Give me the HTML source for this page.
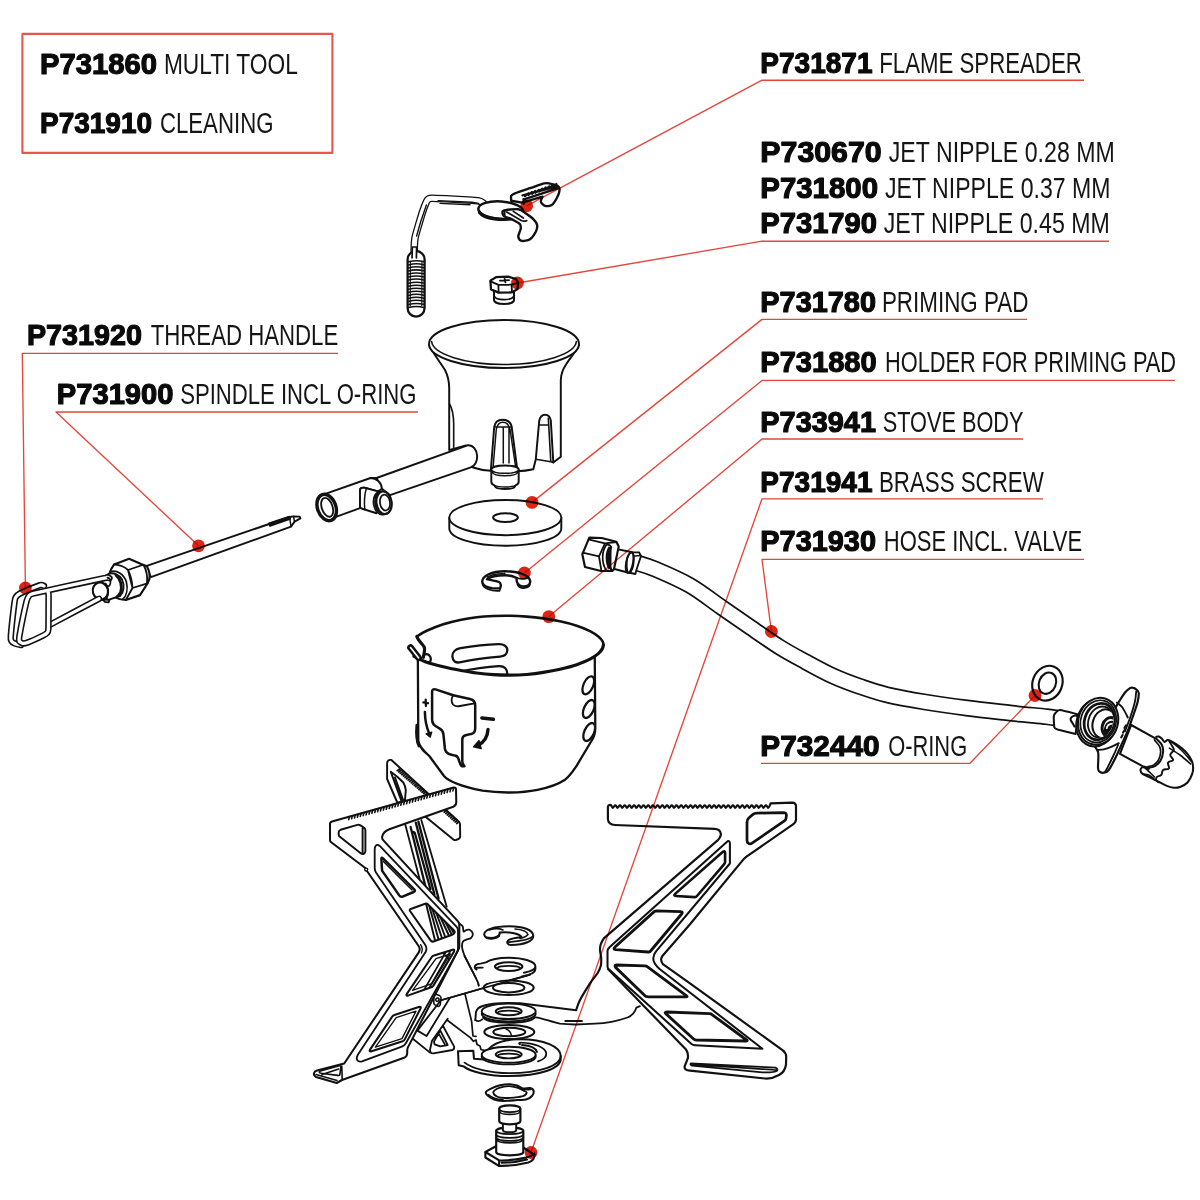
<!DOCTYPE html>
<html><head><meta charset="utf-8"><title>Stove spare parts</title>
<style>
html,body{margin:0;padding:0;background:#fff;}
body{width:1200px;height:1200px;overflow:hidden;font-family:"Liberation Sans",sans-serif;}
svg{display:block;filter:blur(0.35px)}
.b{font-weight:bold;fill:#0a0a0a;stroke:#0a0a0a;stroke-width:1.2;stroke-linejoin:round}
.l{fill:#151515}
.k{fill:none;stroke:#111;stroke-width:1.95;stroke-linecap:round;stroke-linejoin:round}
.w{fill:#fff;stroke:#111;stroke-width:1.95;stroke-linecap:round;stroke-linejoin:round}
.t{fill:none;stroke:#111;stroke-width:1.2;stroke-linecap:round;stroke-linejoin:round}
</style></head><body>
<svg width="1200" height="1200" viewBox="0 0 1200 1200">
<rect width="1200" height="1200" fill="#fff"/>
<!-- 10_burner.svg -->
<g id="burner">
<!-- cup body -->
<path class="w" d="M429.3 345 C432 352 440 362 445 370 C448 376 449.2 381 449.2 388 L449.2 450 L453.5 449 L466 445.5 L473 467.5 C479 469.5 485 470.5 490.8 470.8 L494.2 427 C495 422 498.5 419.7 502.5 419.7 C507 419.7 510.8 422 511.7 427 L517.5 471.3 C523 471 528.5 470.2 533.3 469.2 L535.8 459.2 L539.2 421 C540 417 542.3 414.7 545 414.7 C548 414.7 550.3 417 550.8 420.5 L553.3 462.5 L560.8 456.7 L560.8 380 C561 374 563 369 566 364.5 C570 358 576 352 578.7 345 Z"/>
<!-- rim -->
<ellipse class="w" cx="504" cy="344" rx="75" ry="24"/>
<path style="stroke-width:1.60" class="k" d="M431.6 341.5 C433 354 465 364.5 504 364.5 C543 364.5 575 354 576.4 341.5"/>
<!-- left slot edge -->
<path style="stroke-width:1.60" class="k" d="M449.6 404 C452.5 409 453.6 416 453.7 424 L453.7 448.5"/>
<!-- right slot details -->
<path style="stroke-width:1.60" class="k" d="M548.3 418 L550.8 461.7 M535.8 459.2 L550.8 461.7 L553.3 462.5 M539.4 425 L548.5 425"/>
<!-- centre slot inner details -->
<path style="stroke-width:1.48" class="k" d="M494.6 427 L511.6 427 M496.5 428.5 C497.5 424 500 422.3 502.8 422.3 C506 422.3 508.6 424 509.6 428.5 M503.3 428 L503.3 463 M509 428 L509 463 M496.3 429 L493.2 466 M510 429 L515.5 466"/>
<!-- nozzle -->
<g transform="translate(0 1.6)">
<path class="w" d="M491.3 468 L491.3 480 C491.3 482 492.8 483.3 494.5 483.8 L495.5 485.5 C498 488 512 488 514.5 485.5 L515.5 483.8 C517.2 483.3 518.7 482 518.7 480 L518.7 468 C518.7 462.5 491.3 462.5 491.3 468 Z"/>
<path style="stroke-width:1.48" class="k" d="M491.3 468 C491.3 473 518.7 473 518.7 468 M492 470.3 C494 475.3 516 475.3 518 470.3 M494.5 483.8 C499 486 511 486 515.5 483.8"/>
</g>
<!-- tube thin -->
<path class="w" d="M467.5 445.3 L376.5 478 L381 488 L390 495.2 L470.8 467.3 C474.5 466.5 477.3 461.5 477.2 456 C477 450 473 444.5 467.5 445.3 Z"/>
<!-- thick tube -->
<path class="w" d="M370.5 478 L322.5 494.8 L335.2 517.2 L360 508.2 L360 490 C360.3 488 362 487.4 364.5 487.8 L378 491.5 L381.9 488.7 C381.5 482.5 376.5 478 370.5 478 Z"/>
<path class="k" d="M370.5 478 L376.5 478" />
<!-- T stub -->
<path class="w" d="M364.5 487.8 C361.5 487.3 360.2 488.2 360 490 L360 506 C360 508 361 508.6 362.3 508.8 L376.5 513.3 L379 491.6 Z"/>
<path style="stroke-width:1.48" class="k" d="M366.4 488.2 C364.6 494 364 502 364.8 509.4"/>
<g transform="rotate(-8 383.3 502.8)">
<ellipse style="stroke-width:1.71" class="w" cx="381.3" cy="502.8" rx="7.8" ry="11.6"/>
<ellipse style="stroke-width:1.71" class="w" cx="382.6" cy="502.8" rx="7.6" ry="11.4"/>
<ellipse style="stroke-width:2.28" class="w" cx="384" cy="502.8" rx="7.6" ry="11.4"/>
<ellipse style="stroke-width:1.71" class="w" cx="385" cy="502.8" rx="5" ry="8"/>
</g>
<!-- left end ring -->
<g transform="rotate(-19 326.7 507.5)">
<ellipse style="stroke-width:3.42" class="w" cx="326.7" cy="507.5" rx="9.2" ry="13.6"/>
<ellipse style="stroke-width:1.82" class="w" cx="327.2" cy="507.5" rx="5.4" ry="9.8"/>
</g>
</g>

<!-- 20_body.py -->
<g id="stovebody">
<clipPath id="bodyclip"><path d="M417.8 640 L418.3 741 C420 748 425 752 429.3 756 L445.8 778 C452 783 470 790 510 792.5 C540 791 556 785 565 779.7 L576 766.8 L594.3 735.7 L594.7 640 Z"/></clipPath>
<!-- body -->
<path style="stroke-width:2.28" class="w" d="M417.8 648 L418.3 741 C419.5 747.5 424 751.5 429.3 756 L444 776 C449 782 462 786.5 482.5 790.7 C492 792.2 501 792.6 510 792.5 C520 792.3 529 791.5 537.5 789.8 C549 787.5 558.5 784 565 779.7 C569.5 776.5 572.5 772 576 766.8 L592 740 C594 737 595.2 733 595.3 728.3 L594.7 650 Z"/>
<path style="stroke-width:2.74" class="k" d="M416.8 725 C416 734 416.6 741 418.9 746"/>
<!-- rim -->
<path d="M416.9 636.5C418.5 635.5 422.3 632.8 426.7 630.8C431.1 628.8 437.8 626.1 443.3 624.3C448.9 622.5 454.4 621.2 460.0 620.0C465.6 618.8 471.1 617.9 476.7 617.2C482.2 616.5 487.8 616.2 493.3 616.0C498.9 615.8 504.4 615.7 510.0 615.8C515.6 615.9 521.2 616.2 526.7 616.6C532.2 617.0 537.8 617.6 543.3 618.4C548.8 619.2 554.4 620.1 560.0 621.3C565.6 622.5 571.7 624.1 576.7 625.8C581.7 627.4 586.4 629.4 590.0 631.2C593.6 633.0 596.5 635.1 598.6 636.8C600.7 638.5 601.8 640.0 602.6 641.4C603.4 642.8 603.3 644.4 603.4 645.0C603.2 645.6 603.2 647.2 602.4 648.6C601.6 650.0 600.7 651.6 598.6 653.4C596.5 655.2 593.6 657.3 590.0 659.2C586.4 661.1 581.7 663.0 576.7 664.7C571.7 666.4 565.6 667.9 560.0 669.2C554.4 670.5 548.8 671.5 543.3 672.4C537.8 673.3 532.2 674.0 526.7 674.5C521.2 675.0 515.6 675.2 510.0 675.2C504.4 675.2 498.9 675.1 493.3 674.7C487.8 674.3 482.2 673.7 476.7 673.0C471.1 672.3 465.6 671.3 460.0 670.3C454.4 669.2 448.9 668.1 443.3 666.7C437.8 665.4 431.6 663.9 426.7 662.2C421.8 660.5 416.1 657.3 414.0 656.3L416.9 636.5Z" style="fill:#fff;stroke:none"/>
<path style="stroke-width:2.62" class="k" d="M416.9 636.5C418.5 635.5 422.3 632.8 426.7 630.8C431.1 628.8 437.8 626.1 443.3 624.3C448.9 622.5 454.4 621.2 460.0 620.0C465.6 618.8 471.1 617.9 476.7 617.2C482.2 616.5 487.8 616.2 493.3 616.0C498.9 615.8 504.4 615.7 510.0 615.8C515.6 615.9 521.2 616.2 526.7 616.6C532.2 617.0 537.8 617.6 543.3 618.4C548.8 619.2 554.4 620.1 560.0 621.3C565.6 622.5 571.7 624.1 576.7 625.8C581.7 627.4 586.4 629.4 590.0 631.2C593.6 633.0 596.5 635.1 598.6 636.8C600.7 638.5 601.8 640.0 602.6 641.4C603.4 642.8 603.3 644.4 603.4 645.0"/>
<clipPath id="rimclip"><path d="M416.9 636.5C418.5 635.5 422.3 632.8 426.7 630.8C431.1 628.8 437.8 626.1 443.3 624.3C448.9 622.5 454.4 621.2 460.0 620.0C465.6 618.8 471.1 617.9 476.7 617.2C482.2 616.5 487.8 616.2 493.3 616.0C498.9 615.8 504.4 615.7 510.0 615.8C515.6 615.9 521.2 616.2 526.7 616.6C532.2 617.0 537.8 617.6 543.3 618.4C548.8 619.2 554.4 620.1 560.0 621.3C565.6 622.5 571.7 624.1 576.7 625.8C581.7 627.4 586.4 629.4 590.0 631.2C593.6 633.0 596.5 635.1 598.6 636.8C600.7 638.5 601.8 640.0 602.6 641.4C603.4 642.8 603.3 644.4 603.4 645.0C603.2 645.6 603.2 647.2 602.4 648.6C601.6 650.0 600.7 651.6 598.6 653.4C596.5 655.2 593.6 657.3 590.0 659.2C586.4 661.1 581.7 663.0 576.7 664.7C571.7 666.4 565.6 667.9 560.0 669.2C554.4 670.5 548.8 671.5 543.3 672.4C537.8 673.3 532.2 674.0 526.7 674.5C521.2 675.0 515.6 675.2 510.0 675.2C504.4 675.2 498.9 675.1 493.3 674.7C487.8 674.3 482.2 673.7 476.7 673.0C471.1 672.3 465.6 671.3 460.0 670.3C454.4 669.2 448.9 668.1 443.3 666.7C437.8 665.4 431.6 663.9 426.7 662.2C421.8 660.5 416.1 657.3 414.0 656.3L416.9 636.5Z"/></clipPath>
<g clip-path="url(#rimclip)">
<path style="stroke-width:2.28" class="k" d="M460.5 648.2 C474 646 488 644.6 498.5 644.2 C504 644 507.5 646.5 507.3 650.5 C507 654.5 504.5 656.2 500 656.6 C486 657.6 472 659.6 460.8 662.2 C455.5 663.4 452.6 661 452.4 656.5 C452.2 652.2 455.5 649 460.5 648.2 Z"/>
<path style="stroke-width:2.28" class="k" d="M458 672 C474 668.6 488 666.8 499 666.2 C504.5 666 507.6 669 507.4 675"/>
</g>
<path style="stroke-width:3.19" class="k" d="M603.4 645.0C603.2 645.6 603.2 647.2 602.4 648.6C601.6 650.0 600.7 651.6 598.6 653.4C596.5 655.2 593.6 657.3 590.0 659.2C586.4 661.1 581.7 663.0 576.7 664.7C571.7 666.4 565.6 667.9 560.0 669.2C554.4 670.5 548.8 671.5 543.3 672.4C537.8 673.3 532.2 674.0 526.7 674.5C521.2 675.0 515.6 675.2 510.0 675.2C504.4 675.2 498.9 675.1 493.3 674.7C487.8 674.3 482.2 673.7 476.7 673.0C471.1 672.3 465.6 671.3 460.0 670.3C454.4 669.2 448.9 668.1 443.3 666.7C437.8 665.4 431.6 663.9 426.7 662.2C421.8 660.5 416.1 657.3 414.0 656.3"/>
<!-- notch at left rim -->
<path style="stroke-width:3.19" class="k" d="M416.9 636.3 C417.6 639.6 421.6 643.4 424 646.6 C425.6 649.4 423.8 653.6 423.4 657.4"/>
<g transform="rotate(52 414.6 652.6)"><rect style="stroke-width:2.51" class="w" x="406" y="650.6" width="17.2" height="4.2" rx="2.1"/></g>
<path style="stroke-width:2.28" class="k" d="M425.2 654.4 C428 653.6 430.6 655.6 430.8 658.6 C431 661 429.6 662.6 427.6 662.4"/>
<!-- right holes -->
<g clip-path="url(#bodyclip)">
<ellipse style="stroke-width:2.28" class="k" cx="588.3" cy="685.3" rx="4.8" ry="9.6" transform="rotate(24 588.3 685.3)"/>
<ellipse style="stroke-width:2.28" class="k" cx="588.8" cy="709" rx="4.8" ry="9.6" transform="rotate(24 588.8 709)"/>
<ellipse style="stroke-width:2.28" class="k" cx="589.2" cy="732" rx="4.8" ry="9.6" transform="rotate(24 589.2 732)"/>
</g>
<!-- cutout -->
<path style="stroke-width:2.51" class="k" d="M432.1 691.5 C432.1 689.5 433.5 688.8 435.5 689.4 L453.2 695.3 L470 699 C473.5 699.8 475.2 702 475.2 705.4 L475.2 728.3 C475.2 731.5 474 733.4 471.4 733.9 L465.6 735.2 C463.3 735.8 462.3 737 462.3 739.3 L462.3 761.3 C462.3 763.5 463 765 464.4 766.2 L461.6 766.2 C460 764.5 459.5 762 458.7 759.5 C458 757 457 756 455 755.6 L450.5 754.5 C447 753.6 445.3 751.5 444.9 748.5 L443.4 734 C443 731 441.8 729.6 439.4 728.3 L435.5 726 C433 724.5 432.1 722.5 432.1 719 Z"/>
<path style="stroke-width:1.82" class="k" d="M453.2 695.3 C451.5 698 451.3 702 453 704.5 C454.5 706.5 457 706.6 460 706 L474.5 703.4"/>
<!-- plus sign and arrow -->
<path style="stroke-width:2.28" class="k" d="M423.4 702.4 L428 703.2 M425.7 699.6 L425.9 706"/>
<path style="stroke-width:2.51" class="k" d="M424.9 712 C425 720 426.5 727 429 733"/>
<path d="M426 733.8 L431.8 732 L430.2 737.2 Z" fill="#111" stroke="#111" stroke-width="1.2" stroke-linejoin="round"/>
<!-- minus sign and arrow -->
<path style="stroke-width:3.42" class="k" d="M481.8 718 L493.4 719.2"/>
<path style="stroke-width:3.42" class="k" d="M488 729.5 C487.6 737 483.5 742.5 478 745.5"/>
<path d="M473.6 746.8 L479 740.6 L481.2 748.6 Z" fill="#111" stroke="#111" stroke-width="1.4" stroke-linejoin="round"/>
</g>

<!-- 30_stack.py -->
<g id="stack"><path class="k" d="M441 1000.2 L530 974.6 M464.6 956 L476.6 979.4 Q478.6 983 478.7 985.6 M465 994 L471.6 1021.3 L473 1036 L476 1036.4 M447.7 1020.5 L470.6 1037.9 L473.3 1041.3 L476 1040 L477 1044.5 L480 1046 L481 1049.5 L485 1050.6" style="stroke-width:1.71"/>
<path class="w" d="M458 1051.3 L473.3 1050.7 L474 1058.7 L484 1059.5 C486 1046 498 1039.4 520 1039.3 C544 1039.4 560.7 1046.5 560.7 1056 L560.7 1059 C560.7 1068.5 540 1076 509.5 1076 C488 1076 470 1071.5 464 1066.6 L458.7 1065.2 Z" style="stroke-width:2.05"/>
<path class="k" d="M464.6 1062.6 C472 1068.5 490 1073.2 509.5 1073.2 C540 1073.2 560.7 1065.5 560.7 1056" style="stroke-width:1.82"/>
<path class="k" d="M520 1044.4 C518.5 1043.6 519 1042.4 521.5 1042.6 C534 1043.2 545 1047 546.2 1053 C546.8 1056.5 543.5 1059.6 538 1061.4 M522 1045 C530 1045.6 536 1048.4 537 1052" style="stroke-width:1.82"/>
<ellipse class="w" cx="508.7" cy="1056.4" rx="27" ry="8" style="stroke-width:1.94" />
<ellipse class="w" cx="508.7" cy="1054.7" rx="27" ry="8" style="stroke-width:1.94" />
<ellipse class="w" cx="508.7" cy="1054.4" rx="13" ry="4" style="stroke-width:1.94" />
<path class="k" d="M497.5 1055.6 C500 1053 517 1053 520 1055.6" style="stroke-width:1.60"/>
<ellipse class="w" cx="509.3" cy="1032" rx="25" ry="7" style="stroke-width:2.05" />
<ellipse class="w" cx="509.3" cy="1032" rx="16" ry="4.3" style="stroke-width:2.05" />
<path class="k" d="M506 1029 Q511 1031 511.5 1036" style="stroke-width:1.48"/>
<path class="w" d="M476 1012 C477 1008.5 479.5 1007 482.7 1006 C490 1003.4 505 1002.6 520 1003.3 L576 1010.2 L577.3 1010.4 L600 1000 L640 1008 C636 1014 631 1017.6 627.5 1017.5 C616 1021.6 604 1023.4 595 1023.7 C583 1024.6 573 1025.3 560 1023.7 C551 1022 543 1018.5 535.3 1017.3 C528 1023.5 490 1025 482 1015.6 L482 1019 C480 1021 477 1021 475.3 1020 Z" style="stroke-width:1.82;stroke:none"/>
<path class="k" d="M475.3 1020 L476 1012 C477 1008.5 479.5 1007 482.7 1006 C490 1003.4 505 1002.6 520 1003.3 L576.2 1010.2" style="stroke-width:1.94"/>
<path class="k" d="M535.6 1017.3 C543 1018 551 1022 560 1023.7 C573 1025.3 583 1024.6 595 1023.7 C604 1023.4 616 1021.6 627.5 1017.5 C631.5 1016 635 1012.6 636.4 1007.6 L639.9 1006.2 M565.3 1021 L582 1021" style="stroke-width:1.82"/>
<ellipse class="w" cx="508.7" cy="1013.8" rx="27" ry="7.7" style="stroke-width:1.94" />
<ellipse class="w" cx="508.7" cy="1011.3" rx="27" ry="7.7" style="stroke-width:1.94" />
<path class="k" d="M483 1017.6 C488 1024.6 529 1024.6 535 1017.4 M475.3 1020 C477 1021.4 480 1021.2 482.2 1019.4" style="stroke-width:1.71"/>
<ellipse class="w" cx="508.7" cy="1011.3" rx="13" ry="4" style="stroke-width:1.94" />
<path class="k" d="M497.5 1012.6 C500 1010 517 1010 520 1012.6" style="stroke-width:1.60"/>
<ellipse class="w" cx="508.7" cy="987.7" rx="25" ry="7.3" style="stroke-width:2.05" />
<ellipse class="w" cx="508.7" cy="987.7" rx="15.7" ry="4.7" style="stroke-width:2.05" />
<path d="M478.7 984.6 L530 974.6 L536 966 L500 955 L476 962 L474 968 Z" style="fill:#fff;stroke:none"/>
<path class="k" d="M441 1000.2 L530 974.6 M464.6 956 L476.6 979.4 Q478.6 983 478.7 985.6" style="stroke-width:1.71"/>
<path class="k" d="M476.6 969.6 C474.4 969 474.4 966.6 475.6 965.2 C477 963.8 479 963.7 480.6 963.6 L486 962.4 C490 959.6 498 957.7 508.7 957.7 C523.5 957.7 535.4 961.6 535.4 966.3 L535.4 969.3 C535.4 972.5 530 975 522 976.4 M535.4 966.3 C535.4 968.6 531.5 971.3 524 972.8 M476.6 967.8 L482.6 967.6" style="stroke-width:1.94"/>
<ellipse class="w" cx="508.7" cy="966.6" rx="13.7" ry="4.4" style="stroke-width:2.05" />
<path class="k" d="M497 968 C500 965.2 517.5 965.2 520.4 968" style="stroke-width:1.60"/>
<path class="w" d="M484.2 934.6 C484 929.6 494 926.4 509 926.3 C524 926.3 533.4 930.4 533.3 936 C533.2 941 525 944.6 511 945 C507.6 944.8 506.4 942.6 508 940.6 C510 938.4 516 938.2 521.6 937 C519 933 508 931.6 499.6 932.6 C500 934.4 499.4 935.6 497 936.6 C493 938.4 485 938.8 484.2 934.6 Z" style="stroke-width:2.05"/>
<path class="k" d="M485 936.6 C487 939.8 496 939.6 499.4 936 M507.8 942.2 C512 941.6 528 941 532.6 936.6 M489 930 C494 928.4 500 928.6 503 930 M515 929 C521 929.4 527 931.4 528 934.6 C526 937 523 938 520 938.4" style="stroke-width:1.60"/>
<path class="w" d="M485.8 1092.5C485.8 1090.9 488.6 1089.8 491.0 1088.6C493.4 1087.4 496.8 1085.9 500.0 1085.2C503.2 1084.5 507.2 1084.1 510.0 1084.2C512.8 1084.3 514.8 1084.9 517.0 1085.6C519.2 1086.3 520.8 1088.0 523.0 1088.4C525.2 1088.8 528.2 1087.6 530.0 1088.0C531.8 1088.4 533.3 1089.5 533.6 1090.8C533.9 1092.1 533.3 1094.5 532.0 1096.0C530.7 1097.5 528.5 1098.9 526.0 1099.6C523.5 1100.3 520.0 1099.8 517.0 1100.0C514.0 1100.2 511.2 1100.7 508.0 1100.8C504.8 1100.9 500.8 1101.1 498.0 1100.6C495.2 1100.1 493.0 1099.3 491.0 1098.0C489.0 1096.7 485.8 1094.1 485.8 1092.5Z" style="stroke-width:2.05"/><path class="w" d="M493.3 1092.5C493.1 1091.1 495.2 1089.8 497.0 1088.8C498.8 1087.8 501.7 1087.0 504.0 1086.6C506.3 1086.2 508.7 1086.1 511.0 1086.3C513.3 1086.5 515.9 1087.3 518.0 1088.0C520.1 1088.7 522.1 1089.8 523.6 1090.6C525.1 1091.4 526.8 1091.7 526.7 1092.6C526.6 1093.5 525.1 1095.4 523.0 1096.2C520.9 1097.0 516.8 1097.3 514.0 1097.6C511.2 1097.9 508.7 1098.1 506.0 1098.0C503.3 1097.9 500.1 1097.9 498.0 1097.0C495.9 1096.1 493.5 1093.9 493.3 1092.5Z" style="stroke-width:1.82"/>
<path class="k" d="M488.4 1094.6 C492 1098 497 1099.4 503 1099.6 M517 1086.8 C521 1089.4 526 1090 530.6 1089.6" style="stroke-width:1.48"/>
<path class="w" d="M485.4 1152 L495 1146.7 L523.3 1147.5 L534.6 1155 L533.3 1159.2 C531.5 1161.2 530 1162 528.3 1162.5 C520 1164.6 510 1165.8 501.7 1165.8 L498.8 1165.8 L485.4 1157.5 Z" style="stroke-width:2.17"/>
<path class="k" d="M485.4 1152 L499.2 1160.4 L499 1165.6 M499.2 1160.4 C508 1160.6 519 1159.4 526 1157.6 C530 1156.4 533 1155 534.4 1153.4 M501.6 1162.8 C510 1162.8 520 1161.6 527 1159.6" style="stroke-width:2.05"/>
<path class="w" d="M496.2 1130.8 L496.2 1152 C496.2 1156.4 523.3 1156.4 523.3 1152 L523.3 1130.8 C523.3 1126.4 496.2 1126.4 496.2 1130.8 Z" style="stroke-width:2.17"/>
<path class="k" d="M496.2 1130.8 C496.2 1135.2 523.3 1135.2 523.3 1130.8 M496.2 1134.6 C496.2 1139 523.3 1139 523.3 1134.6 M496.2 1137.6 C496.2 1142 523.3 1142 523.3 1137.6 M497 1140 C498 1143.8 521.6 1143.8 522.6 1140" style="stroke-width:1.71"/>
<path class="w" d="M502.9 1122 L502.9 1130 C502.9 1133 516.2 1133 516.2 1130 L516.2 1122 Z" style="stroke-width:1.94"/>
<path class="w" d="M499.2 1108.8 L499.2 1121 C499.2 1125.4 520.4 1125.4 520.4 1121 L520.4 1108.8 C520.4 1104.2 499.2 1104.2 499.2 1108.8 Z" style="stroke-width:2.17"/>
<path class="k" d="M499.2 1108.8 C499.2 1113.2 520.4 1113.2 520.4 1108.8 M499.6 1111.6 C500.6 1115.4 519 1115.4 520 1111.6" style="stroke-width:1.71"/></g>
<!-- 40_rightleg.py -->
<g id="rightleg">
<path d="M603.8 938.4 L717.6 840.4 Q721.4 836.6 720.8 833.5 Q720 829.2 714.5 828.9 L614.9 825 Q608.2 824.6 607.9 819 L607.9 807.5 Q607.9 805.2 609.5 805 Q610.68 804.2 611.85 806.6 Q613.03 809.2 614.21 806.2 Q615.38 804.2 616.56 806.6 Q617.74 809.2 618.91 806.2 Q620.09 804.2 621.26 806.6 Q622.44 809.2 623.62 806.2 Q624.79 804.2 625.97 806.6 Q627.15 809.2 628.32 806.2 Q629.50 804.2 630.68 806.6 Q631.85 809.2 633.03 806.2 Q634.21 804.2 635.38 806.6 Q636.56 809.2 637.74 806.2 Q638.91 804.2 640.09 806.6 Q641.26 809.2 642.44 806.2 Q643.62 804.2 644.79 806.6 Q645.97 809.2 647.15 806.2 Q648.32 804.2 649.50 806.6 Q650.68 809.2 651.85 806.2 Q653.03 804.2 654.21 806.6 Q655.38 809.2 656.56 806.2 Q657.74 804.2 658.91 806.6 Q660.09 809.2 661.26 806.2 Q662.44 804.2 663.62 806.6 Q664.79 809.2 665.97 806.2 Q667.15 804.2 668.32 806.6 Q669.50 809.2 670.68 806.2 Q671.85 804.2 673.03 806.6 Q674.21 809.2 675.38 806.2 Q676.56 804.2 677.74 806.6 Q678.91 809.2 680.09 806.2 Q681.26 804.2 682.44 806.6 Q683.62 809.2 684.79 806.2 Q685.97 804.2 687.15 806.6 Q688.32 809.2 689.50 806.2 Q690.68 804.2 691.85 806.6 Q693.03 809.2 694.21 806.2 Q695.38 804.2 696.56 806.6 Q697.74 809.2 698.91 806.2 Q700.09 804.2 701.26 806.6 Q702.44 809.2 703.62 806.2 Q704.79 804.2 705.97 806.6 Q707.15 809.2 708.32 806.2 Q709.50 804.2 710.68 806.6 Q711.85 809.2 713.03 806.2 Q714.21 804.2 715.38 806.6 Q716.56 809.2 717.74 806.2 Q718.91 804.2 720.09 806.6 Q721.26 809.2 722.44 806.2 Q723.62 804.2 724.79 806.6 Q725.97 809.2 727.15 806.2 Q728.32 804.2 729.50 806.6 Q730.68 809.2 731.85 806.2 Q733.03 804.2 734.21 806.6 Q735.38 809.2 736.56 806.2 Q737.74 804.2 738.91 806.6 Q740.09 809.2 741.26 806.2 Q742.44 804.2 743.62 806.6 Q744.79 809.2 745.97 806.2 Q747.15 804.2 748.32 806.6 Q749.50 809.2 750.68 806.2 Q751.85 804.2 753.03 806.6 Q754.21 809.2 755.38 806.2 Q756.56 804.2 757.74 806.6 Q758.91 809.2 760.09 806.2 Q761.26 804.2 762.44 806.6 Q763.62 809.2 764.79 806.2 Q765.97 804.2 767.15 806.6 Q768.32 809.2 769.50 806.2 L770.6 803.3 L792 802.7 Q796 802.7 796 806.5 L796 819.5 Q796 822.3 793 824.3 L746.5 856.6 Q743.6 858.8 741.6 861.6 L690 924.2 L662.4 956 Q659.6 959.8 662.9 964.2 L690 983.3 L782.5 1050.2 Q786.3 1053 786.2 1057 L786 1064.5 Q785 1072 779 1075 Q772 1079 765 1078.5 L690 1070.6 Q684 1070 684.6 1066.5 L687.8 1058.4 Q688.6 1053 686 1049.5 L608.2 969.2 L607.5 950 Z" fill="#fff" stroke="none"/>
<path class="k" d="M576.2 1010.0C576.8 1008.3 577.7 1004.5 580.0 1000.0C582.3 995.5 587.1 987.8 590.0 983.3C592.9 978.8 595.7 976.2 597.5 973.3C599.3 970.4 600.2 968.3 600.8 965.8C601.4 963.3 601.3 960.9 601.2 958.3C601.1 955.7 600.1 952.4 600.0 950.0C599.9 947.6 600.2 946.1 600.8 944.2C601.4 942.3 603.3 939.4 603.8 938.4 L717.6 840.4 Q721.4 836.6 720.8 833.5 Q720 829.2 714.5 828.9 L614.9 825 Q608.2 824.6 607.9 819 L607.9 807.5 Q607.9 805.2 609.5 805 Q610.68 804.2 611.85 806.6 Q613.03 809.2 614.21 806.2 Q615.38 804.2 616.56 806.6 Q617.74 809.2 618.91 806.2 Q620.09 804.2 621.26 806.6 Q622.44 809.2 623.62 806.2 Q624.79 804.2 625.97 806.6 Q627.15 809.2 628.32 806.2 Q629.50 804.2 630.68 806.6 Q631.85 809.2 633.03 806.2 Q634.21 804.2 635.38 806.6 Q636.56 809.2 637.74 806.2 Q638.91 804.2 640.09 806.6 Q641.26 809.2 642.44 806.2 Q643.62 804.2 644.79 806.6 Q645.97 809.2 647.15 806.2 Q648.32 804.2 649.50 806.6 Q650.68 809.2 651.85 806.2 Q653.03 804.2 654.21 806.6 Q655.38 809.2 656.56 806.2 Q657.74 804.2 658.91 806.6 Q660.09 809.2 661.26 806.2 Q662.44 804.2 663.62 806.6 Q664.79 809.2 665.97 806.2 Q667.15 804.2 668.32 806.6 Q669.50 809.2 670.68 806.2 Q671.85 804.2 673.03 806.6 Q674.21 809.2 675.38 806.2 Q676.56 804.2 677.74 806.6 Q678.91 809.2 680.09 806.2 Q681.26 804.2 682.44 806.6 Q683.62 809.2 684.79 806.2 Q685.97 804.2 687.15 806.6 Q688.32 809.2 689.50 806.2 Q690.68 804.2 691.85 806.6 Q693.03 809.2 694.21 806.2 Q695.38 804.2 696.56 806.6 Q697.74 809.2 698.91 806.2 Q700.09 804.2 701.26 806.6 Q702.44 809.2 703.62 806.2 Q704.79 804.2 705.97 806.6 Q707.15 809.2 708.32 806.2 Q709.50 804.2 710.68 806.6 Q711.85 809.2 713.03 806.2 Q714.21 804.2 715.38 806.6 Q716.56 809.2 717.74 806.2 Q718.91 804.2 720.09 806.6 Q721.26 809.2 722.44 806.2 Q723.62 804.2 724.79 806.6 Q725.97 809.2 727.15 806.2 Q728.32 804.2 729.50 806.6 Q730.68 809.2 731.85 806.2 Q733.03 804.2 734.21 806.6 Q735.38 809.2 736.56 806.2 Q737.74 804.2 738.91 806.6 Q740.09 809.2 741.26 806.2 Q742.44 804.2 743.62 806.6 Q744.79 809.2 745.97 806.2 Q747.15 804.2 748.32 806.6 Q749.50 809.2 750.68 806.2 Q751.85 804.2 753.03 806.6 Q754.21 809.2 755.38 806.2 Q756.56 804.2 757.74 806.6 Q758.91 809.2 760.09 806.2 Q761.26 804.2 762.44 806.6 Q763.62 809.2 764.79 806.2 Q765.97 804.2 767.15 806.6 Q768.32 809.2 769.50 806.2 L770.6 803.3 L792 802.7 Q796 802.7 796 806.5 L796 819.5 Q796 822.3 793 824.3 L746.5 856.6 Q743.6 858.8 741.6 861.6 L690 924.2 L662.4 956 Q659.6 959.8 662.9 964.2 L690 983.3 L782.5 1050.2 Q786.3 1053 786.2 1057 L786 1064.5 Q785 1072 779 1075 Q772 1079 765 1078.5 L690 1070.6 Q684 1070 684.6 1066.5 L687.8 1058.4 Q688.6 1053 686 1049.5 L608.2 969.2" style="stroke-width:2.17"/>
<path class="k" d="M727.6 841.2 L609.2 947.6 Q607.5 949 607.5 951 L607.5 966.5 Q607.6 968 608.6 969 L691.5 1044 Q693 1045.2 695 1045.3 L762.4 1048.7 L659.6 969 Q653 963 653.3 958.3 Q653.6 954.5 655.8 951.7 L729.9 863.5 L729.9 843.5 Q729.9 840.6 727.6 841.2 Z" style="stroke-width:2.05"/>
<path class="k" d="M747 822.5 Q747 819.5 749 817.8 L753 814.4 Q754.4 813.2 756.5 813.2 L783 812.6 Q786.6 812.6 786.4 815.5 L786 818.6 Q785.8 820 784 821.2 L752 843.2 Q750 844.5 748.5 843.4 Q747 842.5 747 840.5 Z" style="stroke-width:2.74"/>
<path class="k" d="M722.6 852 Q725.1 850.2 725.1 853.2 L725.1 861.5 Q725.1 863 724 864.3 L697 896 Q696 897.2 694.5 897.1 L676 896 Q673 895.8 675.4 893.6 Z" style="stroke-width:2.62"/>
<path class="k" d="M654.2 911.6 Q655.2 910.8 656.5 910.8 L680.6 911.7 Q683.4 911.9 681.6 914 L650.6 951 Q649.7 952.1 648 952 L615.8 949.6 Q612.6 949.2 615 947 Z" style="stroke-width:2.85"/>
<path class="k" d="M616.4 965 L645 965.8 Q646.3 965.9 647.2 966.6 L686.6 995.8 Q688 996.9 686 996.8 L647.6 996.7 Q646 996.6 645 995.8 L615.8 967.6 Q614 965 616.4 965 Z" style="stroke-width:2.85"/>
<path class="k" d="M667.2 1012 L709.6 1013.7 Q711 1013.8 712 1014.6 L746.6 1040 Q748 1041 746 1041 L696.2 1040 Q694.6 1039.9 693.6 1039 L665.8 1013.6 Q664.4 1012 667.2 1012 Z" style="stroke-width:2.85"/>
<path class="k" d="M690.8 1063.4 L775.5 1067.6 Q778 1068.6 777.2 1070.6 Q775 1072.6 762.4 1072.4 L692 1065.6 Q689.6 1064.6 690.8 1063.4 Z M691.5 1064.4 L776 1070" style="stroke-width:1.71"/>
</g>
<!-- 45_backleg.py -->
<g id="backleg">
<path class="w" d="M387.1 779 L387.1 763.4 Q387.3 759.2 391.4 760 L459.2 822 Q460 823 460 824.6 L460.2 836.6 Q460 838.6 458 839.2 L456 840 Q454.6 840.4 453.4 839.4 L405 800 L397.5 803 Z" style="stroke-width:1.94"/>
<path class="k" d="M399.5 769.0l-2.3 1.7M401.1 770.3l-2.3 1.7M402.6 771.7l-2.3 1.7M404.2 773.0l-2.3 1.7M405.7 774.4l-2.3 1.7M407.3 775.7l-2.3 1.7M408.8 777.1l-2.3 1.7M410.4 778.4l-2.3 1.7M411.9 779.7l-2.3 1.7M413.5 781.1l-2.3 1.7M415.0 782.4l-2.3 1.7M416.6 783.8l-2.3 1.7M418.1 785.1l-2.3 1.7M419.7 786.4l-2.3 1.7M421.2 787.8l-2.3 1.7M422.8 789.1l-2.3 1.7M424.3 790.5l-2.3 1.7M425.9 791.8l-2.3 1.7M427.4 793.2l-2.3 1.7M429.0 794.5l-2.3 1.7M446.5 810.5l-2.3 1.7M448.1 811.9l-2.3 1.7M449.6 813.3l-2.3 1.7M451.2 814.7l-2.3 1.7M452.8 816.1l-2.3 1.7M454.3 817.6l-2.3 1.7M455.9 819.0l-2.3 1.7M457.4 820.4l-2.3 1.7M459.0 821.8l-2.3 1.7" style="stroke-width:1.71"/>
<path class="k" d="M390.8 771.8 L401.7 801.7 M390.8 771.8 Q397 776 403.3 782.5 Q405.4 786 405.8 790 L405 800 M395 777.5 L403.4 800.8" style="stroke-width:1.94"/>
<path class="k" d="M405.3 824.7 L419.6 879 M421.3 820 L446.7 906.7" style="stroke-width:1.82"/>
<path class="k" d="M410.6 827 L425.6 887 M412.4 834 Q413 830.4 414.8 833 L430.4 889 M415.8 822.6 L434.4 894.4 M418.4 821.6 L438.6 898.6" style="stroke-width:2.28"/>
<path class="k" d="M449.5 998.5 L426.6 1036 L417.4 1030.6 L440.3 1001 M412.8 1038.8 L430 1052.6" style="stroke-width:1.82"/>
<path class="k" d="M447.7 1018.7 L432 1040.7 L430 1049.8 Q430 1053.6 433.4 1053.4 L452.4 1050 Q454.6 1049.4 454.2 1046.6 L443 1026 M434 1041.6 L440.3 1030.6 L447.7 1045 L440.3 1046.4 L434.6 1044.4 Z M438.6 1033.4 L445.4 1045.4" style="stroke-width:1.82"/>
<path class="k" d="M433.8 996 Q433.4 994 435.4 994.2 L439.6 995.6 Q441.2 996.4 441 998.4 L440.2 1004.8 Q439.6 1006.8 437.6 1006.2 L434.6 1004.6 Q433.6 1003.6 433.8 1002 Z M435.8 999.4 a1.6 1.6 0 1 0 3.2 0.6 a1.6 1.6 0 1 0 -3.2 -0.6" style="stroke-width:1.60"/>
</g>
<!-- 50_leftleg.py -->
<g id="leftleg">
<path class="k" d="M459.3 923.5C459.9 924.0 462.0 925.0 462.7 926.4C463.4 927.8 463.0 931.0 463.6 931.6C464.2 932.2 465.4 930.3 466.4 930.0C467.4 929.7 468.5 929.2 469.6 929.8C470.7 930.4 472.6 932.2 472.8 933.6C473.0 935.0 472.1 937.0 471.0 938.0C469.9 939.0 467.3 939.2 466.0 939.8C464.7 940.4 463.7 940.6 463.0 941.6C462.3 942.6 462.1 944.2 462.0 945.6C461.9 947.0 462.2 948.3 462.6 950.0C463.0 951.7 464.3 955.0 464.6 956.0" style="stroke-width:1.82"/>
<path class="w" d="M332 821.4 L453.6 787.6 Q456 787.2 456 789.6 L456.3 802 Q456.3 805.4 453.3 806.7 L389.3 829.3 Q383.2 831.8 382.2 836.6 Q381.8 838.6 383.4 840.4 L458 921.4 Q459.3 922.6 459.3 924.5 L459.3 946.5 Q459.3 948.4 458.2 950 L408.3 1046.6 Q407.2 1048.5 407.2 1050.5 L407.2 1053.5 Q407 1056.6 404 1057.8 L342 1080 L336.7 1083 L316 1077 Q313.4 1076 314 1073.2 Q314.4 1071.4 317 1070.6 L344.2 1063.5 L418.6 952.6 Q420.8 949.3 418.6 946 L367 871 L365.3 868 L331.2 842.2 Q330 841.2 330 839.4 L330 824 Q330 821.8 332 821.4 Z" style="stroke-width:2.05"/>
<path class="k" d="M349.5 816.5l-0.8 3.1M352.4 815.7l-0.8 3.1M355.3 814.9l-0.8 3.1M358.2 814.1l-0.8 3.1M361.1 813.3l-0.8 3.1M364.0 812.5l-0.8 3.1M366.9 811.8l-0.8 3.1M369.8 811.0l-0.8 3.1M372.7 810.2l-0.8 3.1M375.6 809.4l-0.8 3.1M378.4 808.6l-0.8 3.1M381.3 807.8l-0.8 3.1M384.2 807.0l-0.8 3.1M387.1 806.2l-0.8 3.1M390.0 805.4l-0.8 3.1M392.9 804.6l-0.8 3.1M395.8 803.8l-0.8 3.1M398.7 803.0l-0.8 3.1M401.6 802.2l-0.8 3.1M404.5 801.4l-0.8 3.1M407.4 800.6l-0.8 3.1M410.3 799.8l-0.8 3.1M413.2 799.0l-0.8 3.1M416.1 798.2l-0.8 3.1M419.0 797.4l-0.8 3.1M421.9 796.6l-0.8 3.1M424.8 795.8l-0.8 3.1M427.6 795.0l-0.8 3.1M430.5 794.2l-0.8 3.1M433.4 793.4l-0.8 3.1M436.3 792.6l-0.8 3.1M439.2 791.8l-0.8 3.1M442.1 791.0l-0.8 3.1M445.0 790.2l-0.8 3.1M447.9 789.4l-0.8 3.1M450.8 788.6l-0.8 3.1M453.7 787.8l-0.8 3.1" style="stroke-width:1.60"/>
<path class="k" d="M378 845 Q376.6 844.6 375.6 846 Q374.7 847.4 374.7 849.3 L374.7 868 Q374.7 870.4 376 872.4 L425 944.6 Q427.6 948.4 425.6 952 L358 1054.4 Q356 1057.6 357.2 1060 Q358.6 1062.4 362 1061.4 L401.8 1046.6 Q404.6 1045.6 406 1043 L457 952.4 Q458 950.6 458 948.6 L458 930.4 Q458 928.2 456.4 926.6 L380 846.2 Q379 845.2 378 845 Z" style="stroke-width:1.82"/>
<path class="k" d="M338.7 832.2 Q338.7 830.4 340.6 829.8 L357.4 824.9 Q359 824.5 360.4 825.4 L364.2 827.8 Q365.4 828.7 365.4 830.4 L365.4 851 Q365.4 853 363.8 853.8 Q362.4 854.4 361 853.4 L339.6 836.6 Q338.7 835.8 338.7 834.4 Z M362.6 828 L362.6 852.4" style="stroke-width:1.94"/>
<path class="k" d="M381.4 859 Q381.2 856.8 383 858.4 L414.4 889.6 Q415.8 891 413.6 892 L402.6 896.6 Q400.6 897.4 399.4 895.6 L382.6 871.4 Q382 870.6 382 869.4 Z" style="stroke-width:2.51"/>
<path class="k" d="M383.4 861.4 L412 890" style="stroke-width:1.37"/>
<clipPath id="c3clip"><path d="M411.4 908.8 L425.2 903.8 Q426.8 903.3 428 904.5 L454 930.4 Q455.4 932 453.8 933.6 Q453 934.6 451.6 935 L433.4 941.5 Q431.6 942 430.6 940.4 L410 911 Q409 909.4 411.4 908.8 Z"/></clipPath><clipPath id="c4clip"><path d="M434 955.6 L452.6 949.7 Q455 949 454 951.6 L433.4 985.6 Q432.6 986.8 431.2 987.2 L408.4 995.4 Q405.2 996.4 407 993.6 L431.6 957.2 Q432.4 956 434 955.6 Z"/></clipPath>
<g clip-path="url(#c3clip)"><path class="k" d="M425.6 902 L435.4 942 M428.4 903 L439 941 M431 905 L442.6 940 M434.4 908 L446 939 M438 912 L449.6 937 M443 917 L452.4 936 M447.6 922 L454.6 934.6" style="stroke-width:1.94"/></g>
<g clip-path="url(#c4clip)"><path class="k" d="M447 950 L424 990 M451 950 L428 990 M441.6 952 L452 962" style="stroke-width:1.60"/></g>
<path class="k" d="M411.4 908.8 L425.2 903.8 Q426.8 903.3 428 904.5 L454 930.4 Q455.4 932 453.8 933.6 Q453 934.6 451.6 935 L433.4 941.5 Q431.6 942 430.6 940.4 L410 911 Q409 909.4 411.4 908.8 Z" style="stroke-width:2.05"/>
<path class="k" d="M434 955.6 L452.6 949.7 Q455 949 454 951.6 L433.4 985.6 Q432.6 986.8 431.2 987.2 L408.4 995.4 Q405.2 996.4 407 993.6 L431.6 957.2 Q432.4 956 434 955.6 Z" style="stroke-width:2.05"/>
<path class="k" d="M436 958.6 L450.4 954 L432 983.6 L412.6 990.4 Z" style="stroke-width:1.37"/>
<path class="k" d="M394.4 1015 L418.8 1007 Q421.6 1006.2 420.4 1008.8 L404.6 1039.6 Q404 1040.8 402.6 1041.3 L371.6 1051.2 Q368.6 1052 370.2 1049.4 L392.2 1016.6 Q393 1015.4 394.4 1015 Z" style="stroke-width:2.05"/>
<path class="k" d="M396.2 1017.6 L416 1011.2 L402 1038.6 L375.4 1047.2 Z" style="stroke-width:1.37"/>
<path class="k" d="M319.6 1072.6 Q318.6 1071.6 320.4 1071 L339.4 1065.8 Q341 1065.6 340.8 1067.2 L340 1074 Q339.6 1076 337.8 1075.4 L320.6 1073.2 M322 1074.6 L338.6 1069 M341.8 1066 L342.2 1079.6 M316 1074.6 L337 1080.4" style="stroke-width:1.60"/>
<path class="k" d="M418.8 944.6 Q421.6 949.3 419.6 953" style="stroke-width:1.37" transform="translate(1.8 0)"/>
<circle cx="366.2" cy="869.6" r="1.5" class="w" style="stroke-width:1.37"/>
</g>
<!-- 60_small.py -->
<g id="small"><path class="w" d="M449.3 517.6 L449.3 528.2 C449.3 538 474 545.8 505.3 545.8 C536.6 545.8 561.3 538 561.3 528.2 L561.3 517.6 Z" style="stroke-width:1.94"/>
<ellipse class="w" cx="505.3" cy="517.6" rx="56" ry="17.6" style="stroke-width:1.94"/>
<ellipse class="w" cx="505.5" cy="517.6" rx="12.4" ry="4.4" style="stroke-width:1.94"/>
<path class="w" d="M482.2 582 C482 575.5 492 571.4 505 571.3 C518 571.2 529.5 575 530.2 581 C530.6 585.4 526.5 586.8 522.5 586.4 C518.5 586 516 582.5 516.7 578 C513 575.8 509 575.2 505 575.2 C498 575.2 490.5 576.6 487 579.2 C490 580.2 495 580.6 498.6 581.8 C501 583 501.4 586 500 588.4 L492 588.3 C487 587.5 483 585 482.2 582 Z" style="stroke-width:2.39"/>
<path class="k" d="M482.4 583.6 C483.4 588.6 491 591.4 499.6 590.8 L500.2 588.4 M517.6 584.4 C519 588.6 526 589.8 529.6 585.6 M487.4 577 C492 574.6 499 573.6 503 573.8 M504.6 573.4 L504.8 575.2 M517 577.6 C519 579 524 579.4 527.4 578" style="stroke-width:1.71"/>
<path d="M636.0 562.6C639.2 563.7 646.0 565.2 655.0 569.0C664.0 572.8 678.9 579.1 690.0 585.5C701.1 591.9 711.4 600.3 721.4 607.2C731.4 614.1 740.2 620.3 750.0 627.0C759.8 633.7 770.7 641.5 780.0 647.3C789.3 653.1 797.2 657.2 806.0 662.0C814.8 666.8 824.0 671.9 833.0 676.0C842.0 680.1 851.0 683.4 860.0 686.5C869.0 689.6 875.9 692.1 886.7 694.7C897.5 697.3 911.7 699.8 925.0 702.0C938.3 704.2 952.5 706.2 966.7 708.0C980.9 709.8 996.7 711.5 1010.0 713.0C1023.3 714.5 1038.7 715.8 1046.7 716.7C1054.7 717.6 1056.1 718.1 1058.0 718.4" style="fill:none;stroke:#111;stroke-width:16.9;stroke-linecap:butt"/>
<path d="M636.0 562.6C639.2 563.7 646.0 565.2 655.0 569.0C664.0 572.8 678.9 579.1 690.0 585.5C701.1 591.9 711.4 600.3 721.4 607.2C731.4 614.1 740.2 620.3 750.0 627.0C759.8 633.7 770.7 641.5 780.0 647.3C789.3 653.1 797.2 657.2 806.0 662.0C814.8 666.8 824.0 671.9 833.0 676.0C842.0 680.1 851.0 683.4 860.0 686.5C869.0 689.6 875.9 692.1 886.7 694.7C897.5 697.3 911.7 699.8 925.0 702.0C938.3 704.2 952.5 706.2 966.7 708.0C980.9 709.8 996.7 711.5 1010.0 713.0C1023.3 714.5 1038.7 715.8 1046.7 716.7C1054.7 717.6 1056.1 718.1 1058.0 718.4" style="fill:none;stroke:#fff;stroke-width:13.5;stroke-linecap:butt"/>
<path class="w" d="M630.6 573 L635.4 574 L636.4 570 L641 556 L639 552.3 L632.3 552.3 Z" style="stroke-width:1.82"/>
<path class="k" d="M632.5 556.2 L640.6 555.4" style="stroke-width:1.48"/>
<path class="w" d="M609.7 547.6 L632.3 552.3 C634.5 555 634.5 568 629.7 573 L609.7 567.8 Z" style="stroke-width:1.94"/>
<ellipse class="w" cx="629.6" cy="562.7" rx="3.4" ry="10.4" transform="rotate(11 629.6 562.7)" style="stroke-width:1.94"/>
<path d="M629.6 553.2 C627 556 626 566 628 572.6 C625.4 567 625.6 557 629.6 553.2 Z" style="fill:#111;stroke:#111;stroke-width:1.14"/>
<path class="w" d="M589.3 537.7 L601.7 538 L616.3 541.7 L618.7 546.6 L614 569 L612.3 571 L601 571 L585 567 L582.3 554.3 Z" style="stroke-width:2.17"/>
<path class="k" d="M589.3 539.6 L605 543.4 L616.3 542 M605 543.4 L599 556.3 L582.6 552.7 M599 556.3 L601.4 570.8" style="stroke-width:1.82"/>
<path d="M606.6 544.6 C602 550 601 562 606 570 C607.5 571 610 571 611.6 570 C607 565 606 553 611 546.4 C610 545 608 544.4 606.6 544.6 Z" style="fill:#fff;stroke:#111;stroke-width:1.71"/>
<path d="M609.4 547 C605.6 553 605.6 563 609.4 569 C606.5 563 606.5 553 609.4 547 Z M611.6 546.6 C607.6 553 607.6 563 611.4 569.6" style="fill:#111;stroke:#111;stroke-width:1.82"/>
<g transform="rotate(22 1047.5 683)"><ellipse class="w" cx="1047.5" cy="683.2" rx="14.8" ry="17.8" style="stroke-width:2.17"/><ellipse class="w" cx="1047.5" cy="683.2" rx="8.4" ry="11" style="stroke-width:2.05"/></g></g>
<!-- 65_valve.py -->
<g id="valve"><path class="w" d="M1156.2 736.9C1156.6 736.8 1158.0 736.2 1158.8 736.5C1159.5 736.8 1161.1 738.0 1161.9 738.8C1162.6 739.5 1163.6 741.7 1164.4 741.9C1165.1 742.0 1166.7 740.1 1167.5 740.0C1168.3 739.9 1169.0 740.1 1170.6 741.0C1172.3 741.9 1177.8 745.2 1180.0 746.9C1182.2 748.6 1185.9 751.8 1187.5 753.8C1189.1 755.7 1191.1 759.4 1191.9 761.2C1192.6 763.1 1193.1 765.8 1193.1 767.5C1193.2 769.2 1193.0 771.8 1192.2 773.8C1191.5 775.8 1189.1 780.7 1187.5 782.5C1185.9 784.3 1181.8 786.3 1180.0 787.0C1178.2 787.7 1175.6 787.9 1173.8 787.8C1171.9 787.6 1168.4 786.5 1166.2 785.6C1164.1 784.8 1159.8 782.4 1157.5 781.2C1155.2 780.1 1150.8 777.9 1148.8 776.9C1146.8 775.9 1143.6 774.6 1142.5 773.8C1141.4 772.9 1140.6 771.5 1140.5 770.6C1140.4 769.8 1141.3 767.9 1141.9 767.5C1142.5 767.1 1144.1 767.3 1145.0 767.5C1145.9 767.7 1148.2 768.8 1148.8 769.0" style="stroke-width:2.05"/>
<path class="k" d="M1169.4 741.5C1169.9 742.3 1171.0 743.9 1171.9 745.6C1172.8 747.3 1174.1 748.2 1173.8 750.0C1173.4 751.8 1170.4 752.8 1170.2 754.8C1170.1 756.8 1173.5 758.5 1173.1 760.0C1172.7 761.5 1169.0 760.8 1168.1 762.5C1167.2 764.2 1169.8 767.0 1168.8 768.5C1167.8 770.0 1164.6 768.7 1163.1 770.0C1161.6 771.3 1162.5 773.6 1161.2 775.0C1160.0 776.4 1157.9 775.9 1156.9 776.9C1155.8 777.9 1156.2 779.4 1156.0 780.0" style="stroke-width:1.94"/>
<path class="k" d="M1170.6 741.2C1172.4 742.7 1177.8 746.7 1181.2 750.0C1184.7 753.3 1189.6 759.4 1191.2 761.2 M1169.4 748.1C1171.1 749.3 1176.5 752.4 1180.0 755.0C1183.5 757.6 1188.9 762.5 1190.6 764.0 M1142.5 773.8C1143.5 774.0 1146.9 774.2 1148.8 775.0C1150.6 775.8 1152.1 777.5 1153.8 778.8C1155.4 780.0 1157.9 781.9 1158.8 782.5 M1145.0 767.8C1145.8 768.5 1148.4 771.0 1150.0 772.5C1151.6 774.0 1153.6 776.1 1154.4 776.9" style="stroke-width:1.60"/>
<path class="w" d="M1131.2 725.0L1156.2 738.8 C1157.2 739.8 1160.7 742.8 1161.9 745.0C1163.0 747.2 1163.3 749.3 1163.1 751.9C1162.9 754.5 1162.0 758.2 1160.6 760.6C1159.3 763.0 1157.0 765.1 1155.0 766.2C1153.0 767.4 1149.8 767.5 1148.8 767.8 L1142.5 766.2 L1120.0 753.8 Z" style="stroke-width:2.05"/>
<path class="k" d="M1154.4 740.0C1155.2 741.0 1158.3 744.2 1159.4 746.2C1160.4 748.3 1160.8 750.2 1160.6 752.5C1160.5 754.8 1159.6 757.9 1158.5 760.0C1157.4 762.1 1155.5 763.9 1153.8 765.0C1152.0 766.1 1149.1 766.2 1148.1 766.5" style="stroke-width:1.71"/>
<path class="w" d="M1118.1 703.1C1119.0 701.7 1123.4 694.5 1125.0 692.5C1126.6 690.5 1128.9 688.8 1130.0 688.1C1131.1 687.5 1132.3 687.6 1133.1 687.8C1134.0 687.9 1135.5 688.7 1136.2 689.4C1137.0 690.1 1138.6 691.4 1138.8 693.1C1138.9 694.9 1138.3 699.2 1137.5 702.5C1136.7 705.8 1133.8 713.8 1132.5 717.5C1131.2 721.2 1129.5 726.7 1128.1 730.0C1126.8 733.3 1124.1 739.0 1122.5 742.5C1120.9 746.0 1117.9 752.8 1116.2 756.2C1114.6 759.7 1111.2 766.0 1110.0 768.1C1108.8 770.2 1107.9 771.3 1106.9 771.9C1105.9 772.5 1103.5 772.8 1102.5 772.8C1101.5 772.7 1099.6 772.0 1099.0 771.2C1098.4 770.5 1098.1 770.0 1098.0 767.5C1097.9 765.0 1098.8 755.5 1098.2 752.5C1097.7 749.5 1094.3 746.0 1093.8 745.0 Z" style="stroke-width:2.17"/>
<path class="k" d="M1136.2 691.5C1136.0 693.1 1135.9 697.1 1135.0 701.2C1134.1 705.4 1132.3 711.2 1130.6 716.2C1129.0 721.2 1125.9 728.8 1125.0 731.2 M1118.1 745.0C1117.2 747.1 1114.4 753.5 1112.5 757.5C1110.6 761.5 1108.1 766.4 1106.9 768.8C1105.6 771.1 1105.3 771.4 1105.0 771.9 M1116.9 702.5C1117.7 703.2 1120.5 705.3 1121.9 706.9C1123.2 708.4 1124.0 710.1 1125.0 711.9C1126.0 713.6 1127.3 716.6 1127.8 717.5 M1097.5 750.0C1098.5 749.9 1101.5 749.9 1103.8 749.4C1106.0 748.9 1108.8 747.9 1111.2 746.9C1113.8 745.8 1117.5 743.8 1118.8 743.1" style="stroke-width:1.82"/>
<path class="k" d="M1126 725.4 l-1.6 2.6 M1124.6 730 l-1.6 2.6 M1122.6 735 l-1.4 2.4" style="stroke-width:2.05"/>
<path class="w" d="M1078.1 714.4C1076.6 714.0 1061.9 710.1 1060.0 710.0C1058.1 709.9 1056.1 712.2 1055.6 712.8C1055.1 713.3 1053.9 715.3 1053.8 716.5C1053.6 717.7 1054.1 726.4 1054.4 727.5C1054.7 728.6 1055.7 728.8 1057.5 729.4C1059.3 729.9 1074.1 733.6 1075.6 734.0 Z" style="stroke-width:2.05"/>
<path class="w" d="M1079.0 716.5C1078.3 716.4 1076.2 715.5 1075.0 715.6C1073.8 715.8 1072.2 716.6 1071.5 717.2C1070.8 717.9 1070.5 718.8 1070.6 719.8C1070.8 720.7 1071.9 722.0 1072.5 723.1C1073.1 724.2 1074.2 725.9 1074.5 726.5" style="stroke-width:2.05"/>
<ellipse class="w" cx="1096.5" cy="722.9" rx="19.8" ry="23.8" transform="rotate(17 1096.5 722.9)" style="stroke-width:2.05"/>
<ellipse class="w" cx="1098.1" cy="721.3" rx="19.8" ry="23.8" transform="rotate(17 1098.1 721.3)" style="stroke-width:2.05"/>
<ellipse class="w" cx="1098.3" cy="721.4" rx="17.6" ry="21.4" transform="rotate(17 1098.3 721.4)" style="stroke-width:1.71"/>
<ellipse class="w" cx="1099.3" cy="721.5999999999999" rx="14.8" ry="18.6" transform="rotate(17 1099.3 721.5999999999999)" style="stroke-width:2.74"/>
<ellipse class="w" cx="1100.6999999999998" cy="722.0999999999999" rx="12.4" ry="15.8" transform="rotate(17 1100.6999999999998 722.0999999999999)" style="stroke-width:1.82"/>
<clipPath id="vclip"><ellipse cx="1100.7" cy="722.1" rx="12.4" ry="15.8" transform="rotate(17 1100.7 722.1)"/></clipPath>
<g clip-path="url(#vclip)"><ellipse class="w" cx="1104.1" cy="723.6999999999999" rx="11.4" ry="14.6" transform="rotate(17 1104.1 723.6999999999999)" style="stroke-width:2.05"/><ellipse class="w" cx="1109.6999999999998" cy="726.9" rx="7.4" ry="9.6" transform="rotate(17 1109.6999999999998 726.9)" style="stroke-width:2.96"/><path d="M1104.6 736 C1102.6 731 1104 724 1108.6 721.4 C1111 720.4 1113.6 720.6 1115 721.6 L1116 729 L1110 737 Z" style="fill:#111"/><path d="M1106.6 729 C1107 725.6 1109.6 723.6 1112.6 723.6" style="fill:none;stroke:#fff;stroke-width:1.71"/></g></g>
<!-- 70_top.py -->
<g id="top"><path d="M414.2 256.0C414.2 254.8 414.2 248.1 414.3 246.0C414.4 243.9 414.6 240.2 415.0 238.0C415.4 235.8 417.1 230.0 418.0 227.0C418.9 224.0 421.5 215.0 422.5 212.0C423.5 209.0 425.8 203.0 426.5 201.5C427.2 200.0 428.0 199.2 428.6 198.8C429.2 198.4 429.5 198.2 432.0 198.2C434.5 198.2 445.8 198.8 450.0 199.0C454.2 199.2 464.7 199.8 468.0 200.0C471.3 200.2 476.3 200.5 478.0 200.8C479.7 201.1 481.5 201.8 482.5 202.5C483.5 203.2 486.0 206.0 486.5 206.5" style="fill:none;stroke:#111;stroke-width:7.6;stroke-linecap:round;stroke-linejoin:round"/>
<path d="M414.2 256.0C414.2 254.8 414.2 248.1 414.3 246.0C414.4 243.9 414.6 240.2 415.0 238.0C415.4 235.8 417.1 230.0 418.0 227.0C418.9 224.0 421.5 215.0 422.5 212.0C423.5 209.0 425.8 203.0 426.5 201.5C427.2 200.0 428.0 199.2 428.6 198.8C429.2 198.4 429.5 198.2 432.0 198.2C434.5 198.2 445.8 198.8 450.0 199.0C454.2 199.2 464.7 199.8 468.0 200.0C471.3 200.2 476.3 200.5 478.0 200.8C479.7 201.1 481.5 201.8 482.5 202.5C483.5 203.2 486.0 206.0 486.5 206.5" style="fill:none;stroke:#fff;stroke-width:5.02;stroke-linecap:round;stroke-linejoin:round"/>
<path class="k" d="M416.6 236 L420.6 222 L426.4 205 M438 200.6 L472 202.2 L478.6 203.4 M440 203.4 L470 204.8" style="stroke-width:1.37"/>
<rect class="w" x="407.6" y="251" width="17" height="65.6" rx="8.5" style="stroke-width:2.28"/>
<path class="k" d="M408.6 261.8 Q416 259.8 423.6 261.6M408.6 264.9 Q416 262.9 423.6 264.7M408.6 267.9 Q416 265.9 423.6 267.7M408.6 270.9 Q416 268.9 423.6 270.8M408.6 274.0 Q416 272.0 423.6 273.8M408.6 277.1 Q416 275.1 423.6 276.9M408.6 280.1 Q416 278.1 423.6 279.9M408.6 283.2 Q416 281.2 423.6 283.0M408.6 286.2 Q416 284.2 423.6 286.0M408.6 289.2 Q416 287.2 423.6 289.1M408.6 292.3 Q416 290.3 423.6 292.1M408.6 295.4 Q416 293.4 423.6 295.2M408.6 298.4 Q416 296.4 423.6 298.2M408.6 301.4 Q416 299.4 423.6 301.2M408.6 304.5 Q416 302.5 423.6 304.3M408.6 307.6 Q416 305.6 423.6 307.4" style="stroke-width:1.54"/>
<path class="k" d="M410.4 262 L410.2 306 M422 262 L421.8 306" style="stroke-width:1.14"/>
<path class="w" d="M412 258 L412.4 247 L416.6 247 L416.4 258" style="stroke-width:1.71"/>
<g transform="rotate(4 500.8 210.2)"><ellipse class="w" cx="500.8" cy="210.2" rx="22.5" ry="8.8" style="stroke-width:2.51"/></g>
<path class="k" d="M479.6 212.4 C484 218.6 503 221.4 516 217.6" style="stroke-width:3.42"/>
<path class="w" d="M503.3 210.8C505.4 209.8 514.9 208.8 518.3 209.2C521.7 209.6 523.8 212.1 526.0 213.6C528.2 215.1 531.6 217.5 533.3 219.2C535.0 220.9 536.7 223.1 537.1 225.0C537.5 226.9 536.9 229.6 535.8 231.7C534.7 233.8 532.1 237.8 530.0 239.2C527.9 240.6 523.5 241.2 521.7 240.8C519.9 240.4 518.6 238.2 518.3 236.7C518.0 235.2 519.6 232.3 520.0 231.0C520.4 229.7 520.8 229.3 520.8 228.3C520.8 227.3 520.9 225.3 520.0 224.2C519.1 223.1 516.5 221.9 515.0 221.0C513.5 220.1 511.6 219.0 510.0 218.3C508.4 217.6 505.2 217.3 504.2 216.2C503.2 215.1 501.2 211.9 503.3 210.8Z" style="stroke-width:2.39"/>
<path class="k" d="M506.7 211.9 L521.7 220.8 Q524 221.6 526.7 220.6 M513.3 211.4 L523.4 218 M504.6 211.6 L504.8 215.8" style="stroke-width:1.71"/>
<path class="w" d="M511.2 200.8C511.2 200.1 510.7 196.8 511.2 195.8C511.7 194.8 512.5 194.3 515.0 193.3C517.5 192.3 526.1 189.5 530.0 188.2C533.9 186.9 541.5 183.9 544.2 183.3C546.9 182.7 548.3 183.3 550.0 183.6C551.7 183.9 555.4 184.7 556.7 185.4C558.0 186.1 559.6 187.5 559.6 189.2C559.6 190.9 557.8 196.2 556.7 198.3C555.6 200.4 553.3 204.0 551.7 205.0C550.1 206.0 546.5 206.2 545.0 205.8C543.5 205.4 541.1 202.9 540.8 201.7C540.5 200.5 542.3 197.4 542.5 196.7 L522 202.6 Z" style="stroke-width:2.39"/>
<path class="k" d="M525.0 196.2l3.4 -3M528.5 195.0l3.4 -3M532.0 193.9l3.4 -3M535.5 192.8l3.4 -3M539.0 191.6l3.4 -3M542.5 190.4l3.4 -3M546.0 189.3l3.4 -3M549.5 188.1l3.4 -3M553.0 187.0l3.4 -3 M522.5 195.4 L556.5 186.6 M524 199.4 L557.6 188.4 M523.4 199.2 L523.8 204" style="stroke-width:2.17"/>
<path class="w" d="M494 290 L494 300 C494 305.4 514 305.4 514 300 L514 290 Z" style="stroke-width:2.05"/>
<path class="k" d="M494.4 296.4 C496 300.6 512 300.6 513.6 296.4" style="stroke-width:1.71"/>
<path class="w" d="M490.4 280.6 L496 277.2 L508 276.6 L516 279 L518 282.6 L517.6 289 L512 292.4 L498.6 292.6 L491 289.4 Z" style="stroke-width:2.28"/>
<path class="k" d="M490.6 281.4 L498.4 284.8 L511.6 284.6 L517.8 282.8 M498.4 284.8 L498.6 292.4 M511.6 284.6 L512 292.2 M500 280.6 L509 280.2 M504.6 278.8 L505.4 282.4" style="stroke-width:1.82"/>
<path class="w" d="M146 566.2 L289.6 517 L293.4 516.4 L299.6 516.6 L300.4 518.4 L294.6 521.6 L291 526.6 L150.9 577.1 Z" style="stroke-width:1.94"/>
<path d="M269 523.4 L289.4 516.6 L290.2 519 L270 525.8 Z" style="fill:#111;stroke:#111;stroke-width:1.82;stroke-linejoin:round"/>
<path class="k" d="M289.6 517 L291 526.6 M293.6 516.6 L294.4 521.4" style="stroke-width:1.48"/>
<path class="w" d="M114.1 564.4 L129.1 558.8 L141.1 564 L146.8 566.2 C149 570 150 575 149.4 579 L147.5 583.5 L140 595.1 L125.8 600 C119 600 111 597 108.6 588 C107.4 581 108.4 572 114.1 564.4 Z" style="stroke-width:2.17"/>
<path class="k" d="M128 570 L142.6 565 M128 570 L132.5 588 L147.4 583.4 M132.5 588 L125.8 600 M114.1 564.4 C120 565 125 567 128 570 C130.6 575 132 581 132.5 588 M143.6 565 C146.4 570 147.6 577 147 583" style="stroke-width:1.82"/>
<path class="k" d="M110.6 571.6 C117 570 124 574 126.4 582 C128 589 126.6 596 122.6 599.4" style="stroke-width:1.71"/>
<path class="w" d="M108.5 574 C113 572 119 574.6 122 579.6 C124.6 585 124 592 120 596 L109 599.6 L100 600 L93 591 L99 580 Z" style="stroke-width:1.94"/>
<path class="k" d="M116 575.2 C120.6 579 122.4 586 120.6 592 C119.6 594.4 118.4 595.6 117 596.6" style="stroke-width:2.74"/>
<ellipse class="w" cx="100.4" cy="591" rx="7.6" ry="8.6" transform="rotate(-15 100.4 591)" style="stroke-width:2.17"/>
<path class="k" d="M105.6 583.6 C108.6 588 109 594 106.6 598.4 L109.4 600.4 L108.6 602.4 L104.6 601.8 L103 599.4" style="stroke-width:1.82"/>
<path d="M44.0 586.0C43.6 585.9 42.4 584.5 40.0 585.2C37.6 586.0 22.4 592.3 20.0 593.5C17.6 594.7 16.2 596.5 15.6 597.5C15.0 598.5 14.9 599.1 14.4 603.0C13.9 606.9 11.1 632.2 10.8 636.0C10.5 639.8 11.0 640.2 11.4 641.0C11.8 641.8 14.0 643.2 15.0 643.6C16.0 644.0 20.4 644.9 21.0 645.0" style="fill:none;stroke:#111;stroke-width:6.5;stroke-linecap:round;stroke-linejoin:round"/><path d="M44.0 586.0C43.6 585.9 42.4 584.5 40.0 585.2C37.6 586.0 22.4 592.3 20.0 593.5C17.6 594.7 16.2 596.5 15.6 597.5C15.0 598.5 14.9 599.1 14.4 603.0C13.9 606.9 11.1 632.2 10.8 636.0C10.5 639.8 11.0 640.2 11.4 641.0C11.8 641.8 14.0 643.2 15.0 643.6C16.0 644.0 20.4 644.9 21.0 645.0" style="fill:none;stroke:#fff;stroke-width:3.31;stroke-linecap:round;stroke-linejoin:round"/>
<path d="M49.6 625.0C51.2 624.1 97.4 599.7 99.0 598.8" style="fill:none;stroke:#111;stroke-width:6.5;stroke-linecap:round;stroke-linejoin:round"/><path d="M49.6 625.0C51.2 624.1 97.4 599.7 99.0 598.8" style="fill:none;stroke:#fff;stroke-width:3.31;stroke-linecap:round;stroke-linejoin:round"/>
<path d="M109.4 578.2C109.2 578.1 107.5 577.4 107.0 577.4C106.5 577.4 110.1 576.9 104.0 578.2C97.9 579.5 40.2 591.9 34.0 593.4C27.8 594.9 29.6 595.4 29.0 596.0C28.4 596.6 27.4 597.7 26.6 601.0C25.8 604.3 20.0 632.6 19.4 636.0C18.8 639.4 19.1 640.8 19.4 641.4C19.7 642.0 22.3 643.3 23.0 643.4C23.7 643.5 26.3 643.0 28.0 642.4C29.7 641.8 41.4 636.4 43.0 635.6C44.6 634.8 46.5 633.5 47.0 633.0C47.5 632.5 48.3 632.1 48.4 629.0C48.5 625.9 48.6 599.2 48.6 596.0C48.6 592.8 48.0 591.1 48.0 590.6" style="fill:none;stroke:#111;stroke-width:6.5;stroke-linecap:round;stroke-linejoin:round"/><path d="M109.4 578.2C109.2 578.1 107.5 577.4 107.0 577.4C106.5 577.4 110.1 576.9 104.0 578.2C97.9 579.5 40.2 591.9 34.0 593.4C27.8 594.9 29.6 595.4 29.0 596.0C28.4 596.6 27.4 597.7 26.6 601.0C25.8 604.3 20.0 632.6 19.4 636.0C18.8 639.4 19.1 640.8 19.4 641.4C19.7 642.0 22.3 643.3 23.0 643.4C23.7 643.5 26.3 643.0 28.0 642.4C29.7 641.8 41.4 636.4 43.0 635.6C44.6 634.8 46.5 633.5 47.0 633.0C47.5 632.5 48.3 632.1 48.4 629.0C48.5 625.9 48.6 599.2 48.6 596.0C48.6 592.8 48.0 591.1 48.0 590.6" style="fill:none;stroke:#fff;stroke-width:3.31;stroke-linecap:round;stroke-linejoin:round"/>
<path class="k" d="M107.4 577.6 C110.6 578 111.4 582 109.6 585.4 C108.6 586.6 107.4 586.4 106.8 585.4" style="stroke-width:1.71"/></g>
<g id="leaders" fill="none" stroke="#e4463a" stroke-width="1.35" style="mix-blend-mode:multiply" stroke-linejoin="round">
<rect x="22.4" y="33.9" width="310" height="119" style="stroke-width:2.1;stroke:#e7574c"/>
<path d="M1084 80.2H762L526.7 205.8"/>
<path d="M1109 241.2H762L517.5 283"/>
<path d="M1027 319.4H762L532 502.4"/>
<path d="M1175 380.4H762L524.4 573"/>
<path d="M1023 439H762L548.8 616.6"/>
<path d="M1043 498.8H762L531 1152.5"/>
<path d="M1084 559.4H762L771.4 631.5"/>
<path d="M761 763.3H970L1035 695.5"/>
<path d="M338 353.3H22.3L25.4 588"/>
<path d="M418 412H56L198.5 545.8"/>
</g>
<g id="dots" fill="#dc2516" style="mix-blend-mode:multiply">
<circle cx="526.7" cy="205.8" r="6.4"/><circle cx="517.5" cy="283" r="6.4"/><circle cx="532" cy="502.4" r="6.4"/>
<circle cx="524.4" cy="573" r="6.4"/><circle cx="548.8" cy="616.6" r="6.4"/><circle cx="531" cy="1152.5" r="6.4"/>
<circle cx="771.4" cy="631.5" r="6.4"/><circle cx="1035" cy="695.5" r="6.4"/><circle cx="25.4" cy="588" r="6.4"/>
<circle cx="198.5" cy="545.8" r="6.4"/>
</g>
<g id="labels" font-family="Liberation Sans, sans-serif" font-size="30">
<text class="b" x="40.0" y="74.0" textLength="117.0" lengthAdjust="spacingAndGlyphs">P731860</text>
<text class="l" x="163.9" y="74.0" textLength="133.9" lengthAdjust="spacingAndGlyphs">MULTI TOOL</text>
<text class="b" x="40.0" y="133.3" textLength="112.0" lengthAdjust="spacingAndGlyphs">P731910</text>
<text class="l" x="159.9" y="133.3" textLength="113.6" lengthAdjust="spacingAndGlyphs">CLEANING</text>
<text class="b" x="760.3" y="73.3" textLength="112.2" lengthAdjust="spacingAndGlyphs">P731871</text>
<text class="l" x="879.2" y="73.3" textLength="202.6" lengthAdjust="spacingAndGlyphs">FLAME SPREADER</text>
<text class="b" x="760.3" y="162.0" textLength="121.4" lengthAdjust="spacingAndGlyphs">P730670</text>
<text class="l" x="888.8" y="162.0" textLength="226.0" lengthAdjust="spacingAndGlyphs">JET NIPPLE 0.28 MM</text>
<text class="b" x="760.3" y="198.0" textLength="117.7" lengthAdjust="spacingAndGlyphs">P731800</text>
<text class="l" x="885.0" y="198.0" textLength="225.5" lengthAdjust="spacingAndGlyphs">JET NIPPLE 0.37 MM</text>
<text class="b" x="760.3" y="233.0" textLength="116.7" lengthAdjust="spacingAndGlyphs">P731790</text>
<text class="l" x="883.8" y="233.0" textLength="226.0" lengthAdjust="spacingAndGlyphs">JET NIPPLE 0.45 MM</text>
<text class="b" x="760.3" y="312.2" textLength="115.7" lengthAdjust="spacingAndGlyphs">P731780</text>
<text class="l" x="881.9" y="312.2" textLength="146.6" lengthAdjust="spacingAndGlyphs">PRIMING PAD</text>
<text class="b" x="760.3" y="372.3" textLength="116.4" lengthAdjust="spacingAndGlyphs">P731880</text>
<text class="l" x="885.0" y="372.3" textLength="291.1" lengthAdjust="spacingAndGlyphs">HOLDER FOR PRIMING PAD</text>
<text class="b" x="760.3" y="431.7" textLength="115.7" lengthAdjust="spacingAndGlyphs">P733941</text>
<text class="l" x="882.7" y="431.7" textLength="140.8" lengthAdjust="spacingAndGlyphs">STOVE BODY</text>
<text class="b" x="760.3" y="491.5" textLength="112.2" lengthAdjust="spacingAndGlyphs">P731941</text>
<text class="l" x="878.9" y="491.5" textLength="164.9" lengthAdjust="spacingAndGlyphs">BRASS SCREW</text>
<text class="b" x="760.3" y="551.0" textLength="115.7" lengthAdjust="spacingAndGlyphs">P731930</text>
<text class="l" x="883.8" y="551.0" textLength="198.4" lengthAdjust="spacingAndGlyphs">HOSE INCL. VALVE</text>
<text class="b" x="760.3" y="755.6" textLength="119.4" lengthAdjust="spacingAndGlyphs">P732440</text>
<text class="l" x="888.2" y="755.6" textLength="79.0" lengthAdjust="spacingAndGlyphs">O-RING</text>
<text class="b" x="26.9" y="345.2" textLength="115.1" lengthAdjust="spacingAndGlyphs">P731920</text>
<text class="l" x="150.7" y="345.2" textLength="187.6" lengthAdjust="spacingAndGlyphs">THREAD HANDLE</text>
<text class="b" x="56.8" y="404.3" textLength="116.7" lengthAdjust="spacingAndGlyphs">P731900</text>
<text class="l" x="180.2" y="404.3" textLength="236.3" lengthAdjust="spacingAndGlyphs">SPINDLE INCL O-RING</text>
</g>
</svg>
</body></html>
